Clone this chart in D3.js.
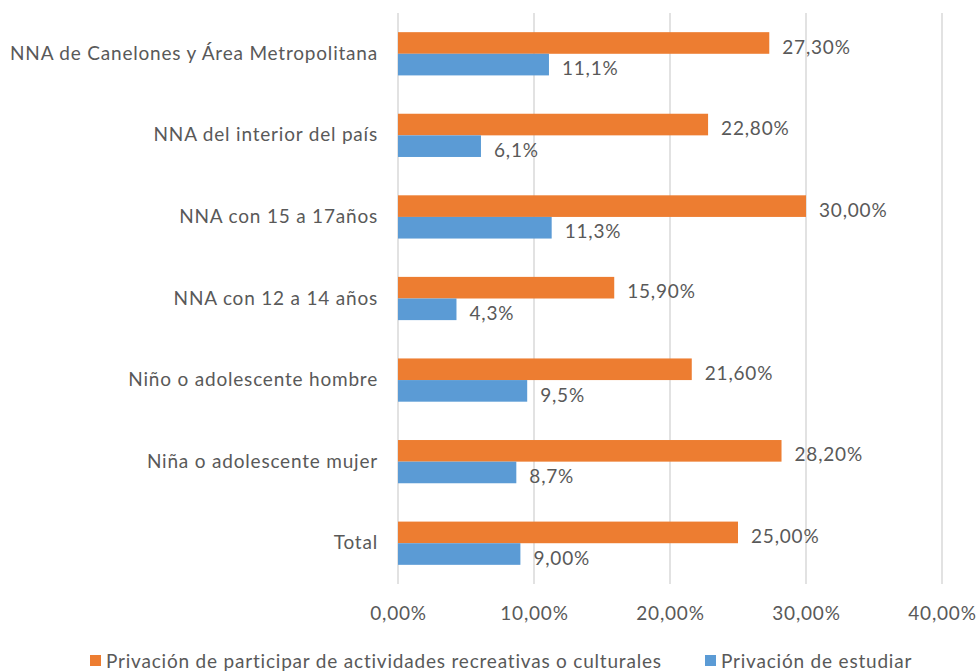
<!DOCTYPE html>
<html>
<head>
<meta charset="utf-8">
<script src="https://cdn.jsdelivr.net/npm/d3@7"></script>
<style>
  body { margin: 0; background: #fff; }
  text { font-family: Lato, "Open Sans", sans-serif; fill: #595959; letter-spacing: 0.8px; }
</style>
</head>
<body>
<div id="chart"></div>
<script>
// categories, top to bottom
const categories = [
  "NNA de Canelones y Área Metropolitana",
  "NNA del interior del país",
  "NNA con 15 a 17años",
  "NNA con 12 a 14 años",
  "Niño o adolescente hombre",
  "Niña o adolescente mujer",
  "Total"
];
const seriesNames = [
  "Privación de participar de actividades recreativas o culturales",
  "Privación de estudiar"
];
const recreativas = [27.3, 22.8, 30.0, 15.9, 21.6, 28.2, 25.0];
const recreativasLabels = ["27,30%", "22,80%", "30,00%", "15,90%", "21,60%", "28,20%", "25,00%"];
const estudiar = [11.1, 6.1, 11.3, 4.3, 9.5, 8.7, 9.0];
const estudiarLabels = ["11,1%", "6,1%", "11,3%", "4,3%", "9,5%", "8,7%", "9,00%"];
const xTicks = [0, 10, 20, 30, 40];
const xTickLabels = ["0,00%", "10,00%", "20,00%", "30,00%", "40,00%"];

const WIDTH = 977, HEIGHT = 671;
const MARGINS = {top: 13, bottom: 87, left: 398, right: 35};
const colors = ["#ED7D31", "#5B9BD5"];
const FONT = 19;

const svg = d3.select("#chart").append("svg")
  .attr("width", WIDTH)
  .attr("height", HEIGHT);

const xScale = d3.scaleLinear([0, 40], [MARGINS.left, WIDTH - MARGINS.right]);
const yScale = d3.scaleBand(categories, [MARGINS.top, HEIGHT - MARGINS.bottom]).paddingInner(0.47).paddingOuter(0.235);
const inner = d3.scaleBand([0, 1], [0, yScale.bandwidth()]);

// gridlines
svg.append("g")
  .selectAll("line")
  .data(xTicks)
  .join("line")
  .attr("x1", d => xScale(d)).attr("x2", d => xScale(d))
  .attr("y1", MARGINS.top).attr("y2", HEIGHT - MARGINS.bottom)
  .attr("stroke", "#D9D9D9").attr("stroke-width", 1.5);

// x axis labels
const xAxis = svg.append("g")
  .attr("transform", `translate(0, ${HEIGHT - MARGINS.bottom})`)
  .call(d3.axisBottom(xScale).tickValues(xTicks).tickFormat((d, i) => xTickLabels[i]).tickSize(0).tickPadding(23));
xAxis.select(".domain").remove();
xAxis.selectAll("text").attr("font-size", FONT).style("font-family", null).attr("fill", "#595959");

// y axis labels
const yAxis = svg.append("g")
  .attr("transform", `translate(${MARGINS.left}, 0)`)
  .call(d3.axisLeft(yScale).tickSize(0).tickPadding(20));
yAxis.select(".domain").remove();
yAxis.selectAll("text").attr("font-size", FONT).style("font-family", null).attr("fill", "#595959");

// bars
const series = [
  {values: recreativas, labels: recreativasLabels},
  {values: estudiar, labels: estudiarLabels}
];
series.forEach((s, si) => {
  const g = svg.append("g");
  g.selectAll("rect")
    .data(categories)
    .join("rect")
    .attr("x", xScale(0))
    .attr("y", d => yScale(d) + inner(si))
    .attr("width", (d, i) => xScale(s.values[i]) - xScale(0))
    .attr("height", inner.bandwidth())
    .attr("fill", colors[si]);
  g.selectAll("text")
    .data(categories)
    .join("text")
    .attr("x", (d, i) => xScale(s.values[i]) + 13)
    .attr("y", d => yScale(d) + inner(si) + inner.bandwidth() / 2 + 4)
    .attr("dy", "0.35em")
    .attr("font-size", FONT)
    .text((d, i) => s.labels[i]);
});

// legend
const legend = svg.append("g").attr("transform", `translate(0, ${HEIGHT - 3})`);
const legendX = [90, 705];
seriesNames.forEach((name, i) => {
  legend.append("rect")
    .attr("x", legendX[i]).attr("y", -13)
    .attr("width", 11).attr("height", 11)
    .attr("fill", colors[i]);
  legend.append("text")
    .attr("x", legendX[i] + 16).attr("y", 0)
    .attr("font-size", FONT)
    .text(name);
});
</script>
</body>
</html>
